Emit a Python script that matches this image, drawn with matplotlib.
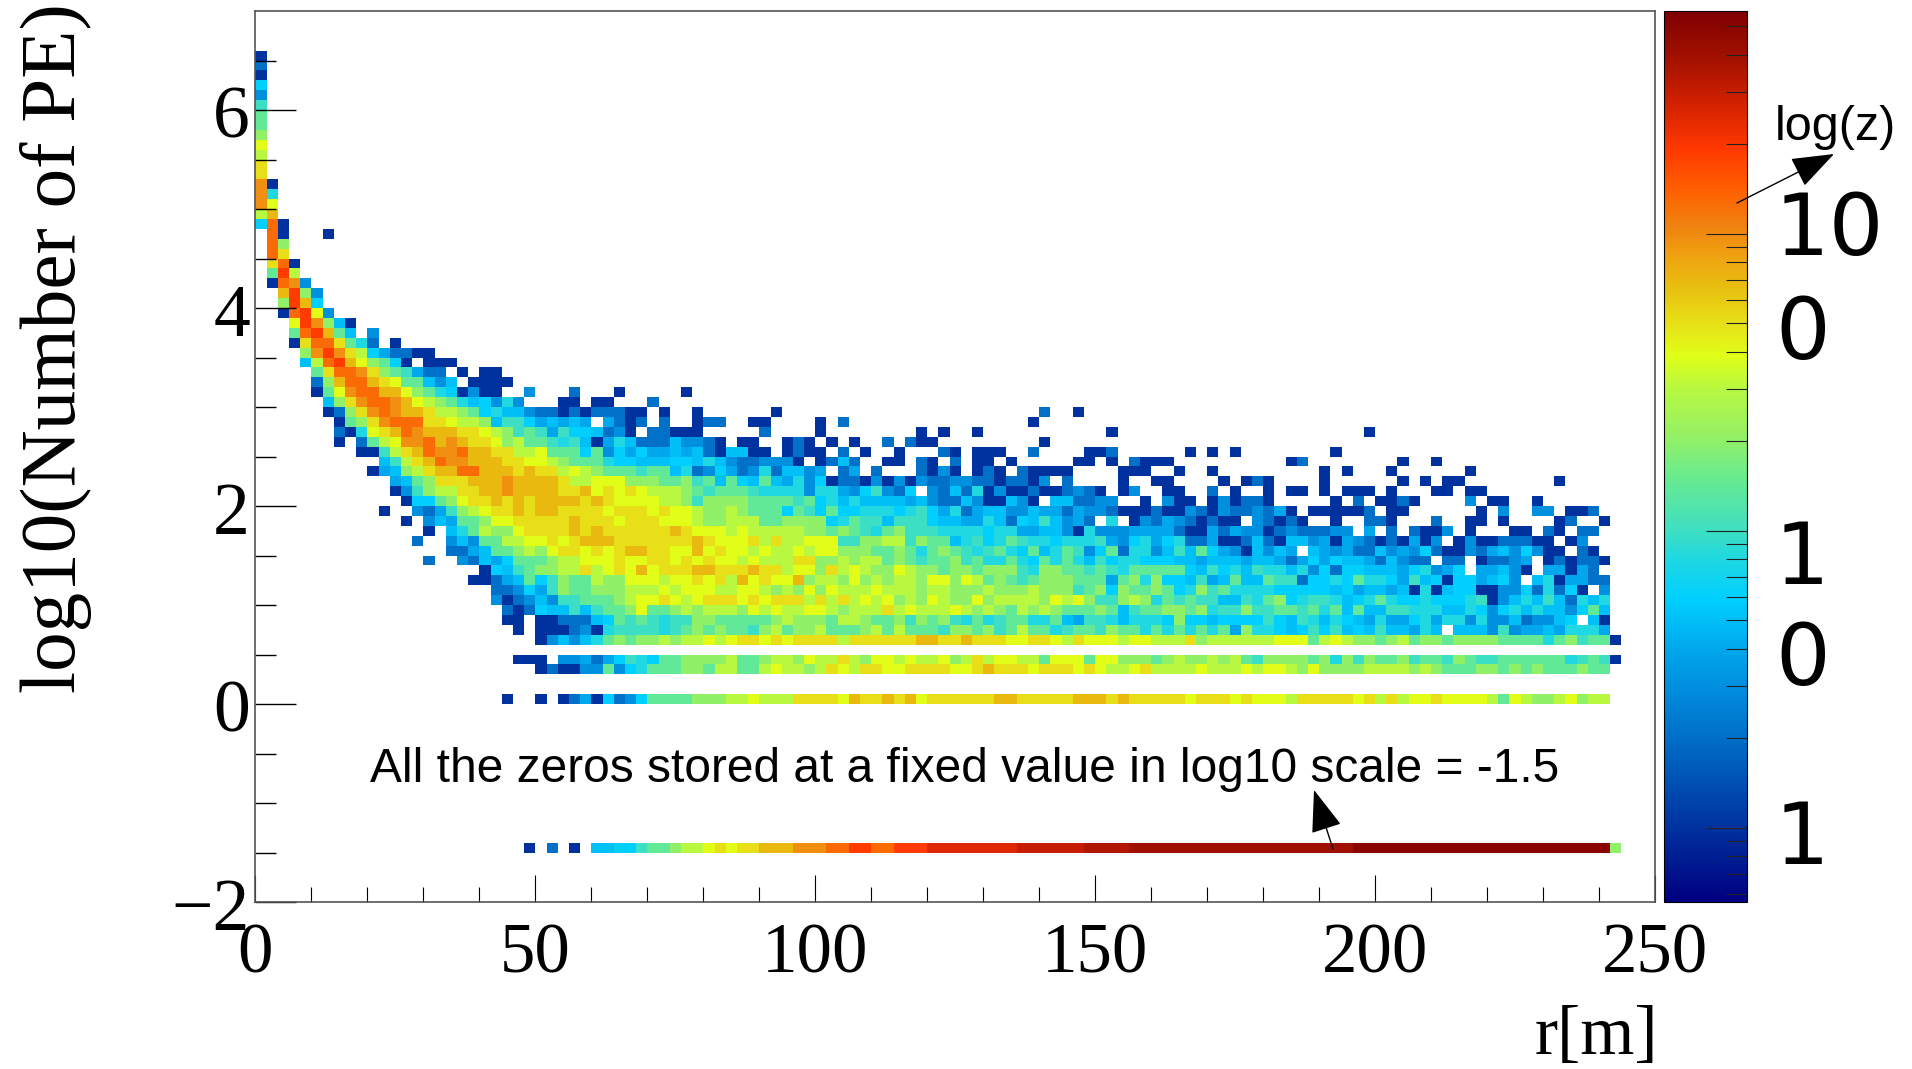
import numpy as np
import matplotlib
matplotlib.use('Agg')
import matplotlib.pyplot as plt
from matplotlib.colors import LinearSegmentedColormap, LogNorm
from matplotlib.transforms import ScaledTranslation

# bin counts, one letter per cell
counts_by_code = {'.': 0, 'a': 1, 'b': 2, 'c': 3, 'd': 4, 'e': 5, 'f': 6, 'g': 8, 'h': 10,
                  'i': 14, 'j': 20, 'k': 30, 'l': 39, 'm': 50, 'n': 70, 'o': 95, 'p': 130,
                  'q': 190, 'u': 250, 'r': 300, 'v': 350, 's': 400, 't': 500}

# row key = lower edge of the bin in tenths of log10(PE)
cols_0_12 = {
    65: "a", 64: "b", 63: "a", 62: "f", 61: "c", 60: "h", 59: "i", 58: "i", 57: "j",
    56: "l", 55: "k", 54: "m", 53: "m", 52: "oa", 51: "og", 50: "ol", 49: "kn",
    48: "fpa", 47: ".pa...a", 46: ".pj", 45: ".pm", 44: ".mpa", 43: ".iqk", 42: ".apoc",
    41: "..nqjc", 40: "..jqnf", 39: "..apqlc", 38: "...lqojea", 37: "...ipqnie.c",
    36: "...amppmigb.a", 35: "....joqomkfdb", 34: "....ekpqnljif", 33: ".....imppomji",
    32: ".....bjnppnml", 31: ".....ailoppnn", 30: "......ejmoppo", 29: "......abjmopo",
    28: ".......aijmop", 27: ".......baglmn", 26: ".......a.bikl", 25: ".........aahk",
    24: "...........eh", 23: "..........ade", 22: "............d", 21: "............a",
    19: "...........a.",
}

cols_13_57 = {
    35: "baa",
    34: "a.aaa",
    33: "hdbb.a.aa",
    32: "iiece.aaaa",
    31: "ljigfacaa..c...b...a.....a",
    30: "nlkjigefcgc...aa.aa...b",
    29: "nnmkkjifgeecbbababbbaa.a..a......a",
    28: "ppmmlkkjehhfdeded.dbab.b..abb..aa....a.b",
    27: "ponnnmmlkjhihdhffebca.bbaaa.....b....a",
    26: "oopnonmmljkiihgheadgebbbeccba.aa..aba.a.a..b",
    25: "mnpoopnnmmkkliiificfdfddedebaeeaa.abaa.b.a..a",
    24: "kmnpoonnnmmllkjiiigffeeeffegecbbccca.abeb..aa",
    23: "jkmnnppnnnmnmmklkjiiihiiegbcfdbcgbeecd.bd.b.",
    22: "eijmmmnnnonnnnmkklllјjjiijhieifeiedgcfabbacac".replace('ј', 'j'),
    21: "chjkkmmnnonnnnmmnlmlmlkkkjihiiihggggcggdcfhcb",
    20: "affijlmmnmnmnnnnmnmllllkkjhjjjjiiiihifgegeeee",
    19: ".cbdhjklmmnmnnmmmmlmmmlmllkjjkjiiifihfiffgggf",
    18: "a.cediijllmmmmmnmmmlmmmlllkjjkkkiijjjjfgihheh",
    17: "..a.egikjjlmmmmnmnmmmmmmnmlllklkkkkkjjijihgij",
    16: ".b..ceciikkllmlmnnnmmmmmmmnmlllmkmkklllhhjjkk",
    15: "....bbdeiijkjlmmlmlmnnmmllnlmllklkklklljjjiij",
    14: "..b..cbedfiiijkklllmllmmlmlmllklkkkmmjjkjkkij",
    13: ".......afehijjkkmklmlnlmmmnnmmmnmmklljmklkjjl",
    12: "......aabdeifhjiikjjlllkllmlmknlmllnjkkjljkjk",
    11: "........bbcfdhjiijjjkkklklllkkllkjkjljlkkklkk",
    10: "........cabcechhiiijkllmlklmmmlmlmmmkmkmklklj",
    9: ".........babfeehehiijliijkjkkkjlklkkllkjkkkmk",
    8: ".........aa.aabbbefihihghhjjiiiiijkjjjikkjiij",
    7: "..........a.aaabcaghhhhghijijiihjkijjkiiijkik",
    6: "............acecegijijjkjkklklmmlmlmmmmkmmmmm",
    4: "..........aaa.ccdbdfhgfiijjjjkiijkkjlkkmkjllk",
    3: "............abaaccicfgiiijjikkiiklkkjkmlkmmll",
    0: ".........a..a.abdafbcfiiiijjjkklkkkmmmmlnmmnm",
    -15: "...........a.b.a.eeffhiijkklmlmmnnnoooppqqppq",
}

cols_58_93 = {
    29: "............b..a",
    28: "...........a",
    27: ".a.a..a...........a",
    26: "baa.........a",
    25: "...ba.aaa..b....aab......a.a.a",
    24: ".ba.b.aa.a.....aa.a.baaa..........ab",
    23: ".baca.aba.baaaa....aaa..a..a",
    22: "acbbccbbabbac.b....a..aa....a.aba",
    21: "f.cbebgacaabaabcba.ac..aa..b.a..a.aa",
    20: "decbbecaaeca.eebbcc..a.caa.acabba",
    19: "ghfdgbdeecceddbdccbaaabaacbacbbcbda.",
    18: "hhfeeddgebfehecdb.g.acbdcbabaa.cbaba",
    17: "hhhggggfggddeecagcccddddbaadbdccabcb",
    16: "hjiieghfgihggfggghdcfgdfgbbdaabebaee",
    15: "igijihghigfiegihcfibggceheifdcaeced.",
    14: "ihiijhiggigfigigehfggfffeedeeedeedbd",
    13: "kjjijjijjjhgjjiihihgiiiiifehfgehggeg",
    12: "kjlljlkijihijjjiiidijgjffehdeieeihhb",
    11: "kjkkjjjkjjjkjjjhijfjiijifgjhiggggfff",
    10: "kjlkjjljkkkkjlkljhhjkjgihihheehgijfg",
    9: "lkkklkjkjikjkjiiijiehiijjijghhjhhiih",
    8: "hjijhgighiiggiedhhgegggfjffeffffhfeh",
    7: "iiihjjijhikiighiihjiigigigigidjggfef",
    6: "mnnmmnmmmllmmlkmlllkllkkkmjkkkkkklll",
    4: "lkkljkmkllkkilllilljjjijkjjkjkihjjjj",
    3: "mmmmllmnmmmlmmmlmlkklmkkkklkkklkllkj",
    0: "nlmmmmmmnnmmmmmnnnmnmmmmmlmmmlmlllkm",
    -15: "qquuuuuuuurrrrrrvvvvssssssssssssssss",
}

cols_94_121 = {
    27: ".....a",
    25: "..a",
    24: "........a..a",
    23: ".a.a...a......a",
    22: ".a......a.a.aa........a",
    21: ".a.aaa.a...aa.aa",
    20: "..a.b.aaba....c.aa..a",
    19: "aaaaab.aa......a.c..cc.aab",
    18: "..a..bba...b..aa.a....ab..a",
    17: "bbcc.d.b.baac.a...aa.ba.bb",
    16: "cdadcbabadac.acaabbbaa.ac",
    15: "edcdbbecdcfbaacbdecfcaa.ba",
    14: "fdfeedbecbb.bb.abbcd.ababba",
    13: "cfbffeeedfgcdf.ddeca.ddadb",
    12: "ffgfiggfdhefaffdefc.egaddbb",
    11: "ffefdeedeagaeffaaccfbgbfa.c",
    10: "hhgefgigffgfffghacegehebgeg",
    9: "igieieehhgggeegfcfgegeecfie",
    8: "gegfedgddfgdggcgccebccef.ea",
    7: "hfhefeheedge.eeechcddedgggd",
    6: "iklkjjijkijjijjjjiiiigijhiia",
    4: "ijgjhjiijhiihjihhiiiiiighiha",
    3: "ljjjjkkkkjkjiiijjijijiiijii",
    0: "mmmmlmkmkllmllllkilkjjkljkk",
    -15: "sssstttttttttttttttttttttttj",
}

x_ticks = [0, 50, 100, 150, 200, 250]
x_minor = [10, 20, 30, 40, 60, 70, 80, 90, 110, 120, 130, 140, 160, 170, 180, 190, 210, 220, 230, 240]
y_ticks = [-2, 0, 2, 4, 6]
y_labels = ['\u22122', '0', '2', '4', '6']
y_minor = [-1.5, -1, -0.5, 0.5, 1, 1.5, 2.5, 3, 3.5, 4.5, 5, 5.5, 6.5]
z_major = [1, 10, 100]
z_minor = [0.6, 0.7, 0.8, 0.9, 2, 3, 4, 5, 6, 7, 8, 9, 20, 30, 40, 50, 60, 70, 80, 90, 200, 300, 400, 500]

# colours (position, colour)
bar_colors = [(0, '#000080'), (0.084, '#0033a0'), (0.185, '#0070c8'), (0.243, '#0090e0'),
              (0.284, '#00a8ec'), (0.34, '#00d0ff'), (0.386, '#20d8e0'), (0.42, '#40e0c0'),
              (0.485, '#70ec88'), (0.518, '#90f068'), (0.577, '#b8f840'), (0.613, '#e0ff18'),
              (0.65, '#e8e018'), (0.689, '#e8c010'), (0.728, '#f0a010'), (0.761, '#f08010'),
              (0.80, '#ff6000'), (0.847, '#ff3800'), (0.90, '#d02000'), (0.952, '#a01000'),
              (1, '#800000')]
cmap = LinearSegmentedColormap.from_list('bar', bar_colors, N=256)

# put the blocks together into one grid
Z = np.zeros((90, 125))
blocks = [(0, 13, cols_0_12), (13, 45, cols_13_57), (58, 36, cols_58_93), (94, 28, cols_94_121)]
for start, width, block in blocks:
    for row, codes in block.items():
        for i, code in enumerate(codes[:width]):
            Z[row + 20, start + i] = counts_by_code[code]

x_edges = np.linspace(0, 250, 126)
y_edges = np.linspace(-2, 7, 91)

W, H = 1912, 1069


def box(left, top, right, bottom):
    return [left / W, 1 - bottom / H, (right - left) / W, (bottom - top) / H]


serif = 'Liberation Serif'
fig = plt.figure(figsize=(W / 100, H / 100), dpi=100)
ax = fig.add_axes(box(255.5, 11, 1655, 902))
mesh = ax.pcolormesh(x_edges, y_edges, np.ma.masked_equal(Z, 0), cmap=cmap,
                     norm=LogNorm(0.562, 562), antialiased=False, linewidth=0)
ax.set_xlim(0, 250)
ax.set_ylim(-2, 7)

ax.set_xticks(x_ticks)
ax.set_xticks(x_minor, minor=True)
ax.set_yticks(y_ticks)
ax.set_yticklabels(y_labels)
ax.set_yticks(y_minor, minor=True)
ax.tick_params(axis='x', which='major', direction='in', length=19.4, width=0.8, pad=15, labelsize=51)
ax.tick_params(axis='x', which='minor', direction='in', length=10.8, width=0.8)
ax.tick_params(axis='y', which='major', direction='in', length=29.5, width=1.0, pad=4, labelsize=53)
ax.tick_params(axis='y', which='minor', direction='in', length=15, width=1.0)
for label in ax.get_xticklabels():
    label.set_fontfamily(serif)
# the y labels sit a little below their ticks
label_shift = ScaledTranslation(0, -2 / 100, fig.dpi_scale_trans)
for label in ax.get_yticklabels():
    label.set_fontfamily(serif)
    label.set_transform(label.get_transform() + label_shift)
for side in ax.spines.values():
    side.set_color('#555555')
    side.set_linewidth(1.2)

fig.text(56 / W, 1 - 348 / H, 'log10(Number of PE)', rotation=90, family=serif, fontsize=57,
         ha='center', va='center')
fig.text(1658 / W, 1 - 1069 / H, 'r[m]', family=serif, fontsize=50, ha='right', va='bottom')

ax.text(369.5 / W, 1 - 770 / H, 'All the zeros stored at a fixed value in log10 scale = -1.5',
        transform=fig.transFigure, family='Liberation Sans', fontsize=34.5, ha='left', va='center')
ax.annotate('', xy=(1314, 1069 - 790), xytext=(1333, 1069 - 849),
            xycoords='figure pixels', textcoords='figure pixels',
            arrowprops=dict(arrowstyle='-|>,head_length=1.5,head_width=0.55', color='black',
                            lw=1, shrinkA=0, shrinkB=0, mutation_scale=18))

cax = fig.add_axes(box(1664, 11, 1747, 902))
cbar = fig.colorbar(mesh, cax=cax)
cbar.outline.set_linewidth(0.8)
cax.set_yticks(z_major)
cax.set_yticks(z_minor, minor=True)
cax.set_yticklabels([])
cax.set_yticklabels([], minor=True)
cax.yaxis.set_ticks_position('right')
cax.tick_params(which='major', direction='in', length=29.5, width=0.8, color='#222222')
cax.tick_params(which='minor', direction='in', length=15, width=0.8, color='#222222')

# colour bar labels are broken over two lines in the original
for text, px, py in [('10', 1775, 232), ('0', 1775, 335), ('1', 1775, 560), ('0', 1775, 661), ('1', 1775, 840)]:
    fig.text(px / W, 1 - py / H, text, family='DejaVu Sans', fontsize=62, ha='left', va='center')

fig.text(1775 / W, 1 - 127 / H, 'log(z)', family='Liberation Sans', fontsize=35, ha='left', va='center')
cax.annotate('', xy=(1834, 1069 - 154), xytext=(1737, 1069 - 203),
             xycoords='figure pixels', textcoords='figure pixels', annotation_clip=False,
             arrowprops=dict(arrowstyle='-|>,head_length=1.5,head_width=0.55', color='black',
                             lw=1, shrinkA=0, shrinkB=0, mutation_scale=18))

fig.savefig('out.png', dpi=100)
